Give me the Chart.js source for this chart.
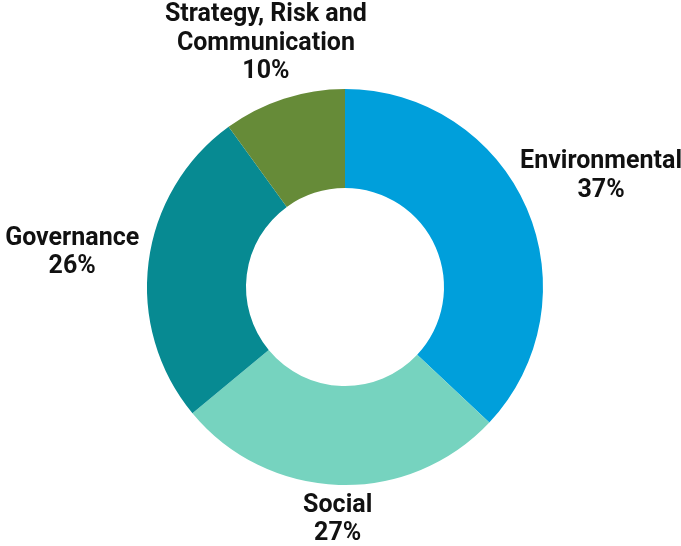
<!DOCTYPE html>
<html>
<head>
<meta charset="utf-8">
<script src="https://cdn.jsdelivr.net/npm/chart.js@4"></script>
<style>
	html, body { margin: 0; padding: 0; background: #fff; }
	#wrap { width: 681px; height: 546px; }
</style>
</head>
<body>
<div id="wrap"><canvas id="esgChart"></canvas></div>
<script>
const categories = ['Environmental', 'Social', 'Governance', 'Strategy, Risk and\nCommunication'];
const shares = [37, 27, 26, 10];
const sliceColors = ['#009fdb', '#76d3bf', '#078a92', '#668b38'];

// how far past the outer edge each label block sits (px)
const labelDistance = [81, 35, 77, 58];

const outsideLabels = {
	id: 'outsideLabels',
	afterDatasetsDraw(chart) {
		const ctx = chart.ctx;
		const meta = chart.getDatasetMeta(0);
		ctx.save();
		ctx.font = 'bold 25px Roboto';
		ctx.fillStyle = '#111111';
		ctx.textAlign = 'center';
		ctx.textBaseline = 'middle';
		const lineH = 28.5;
		meta.data.forEach((arc, i) => {
			const mid = (arc.startAngle + arc.endAngle) / 2;
			const r = arc.outerRadius + labelDistance[i];
			const cx = arc.x + Math.cos(mid) * r;
			const cy = arc.y + Math.sin(mid) * r;
			const lines = categories[i].split('\n').concat([shares[i] + '%']);
			const top = cy - (lines.length - 1) * lineH / 2;
			lines.forEach((t, j) => ctx.fillText(t, cx, top + j * lineH));
		});
		ctx.restore();
	}
};

const ctx = document.getElementById('esgChart').getContext('2d');
const esgChart = new Chart(ctx, {
	type: 'doughnut',
	data: {
		labels: categories,
		datasets: [{
			data: shares,
			backgroundColor: sliceColors,
			borderWidth: 0
		}]
	},
	options: {
		animation: false,
		responsive: true,
		maintainAspectRatio: false,
		cutout: '50%',
		layout: {
			padding: { top: 89, bottom: 61, left: 100, right: 91 }
		},
		plugins: {
			legend: { display: false },
			tooltip: { enabled: false }
		}
	},
	plugins: [outsideLabels]
});
</script>
</body>
</html>
